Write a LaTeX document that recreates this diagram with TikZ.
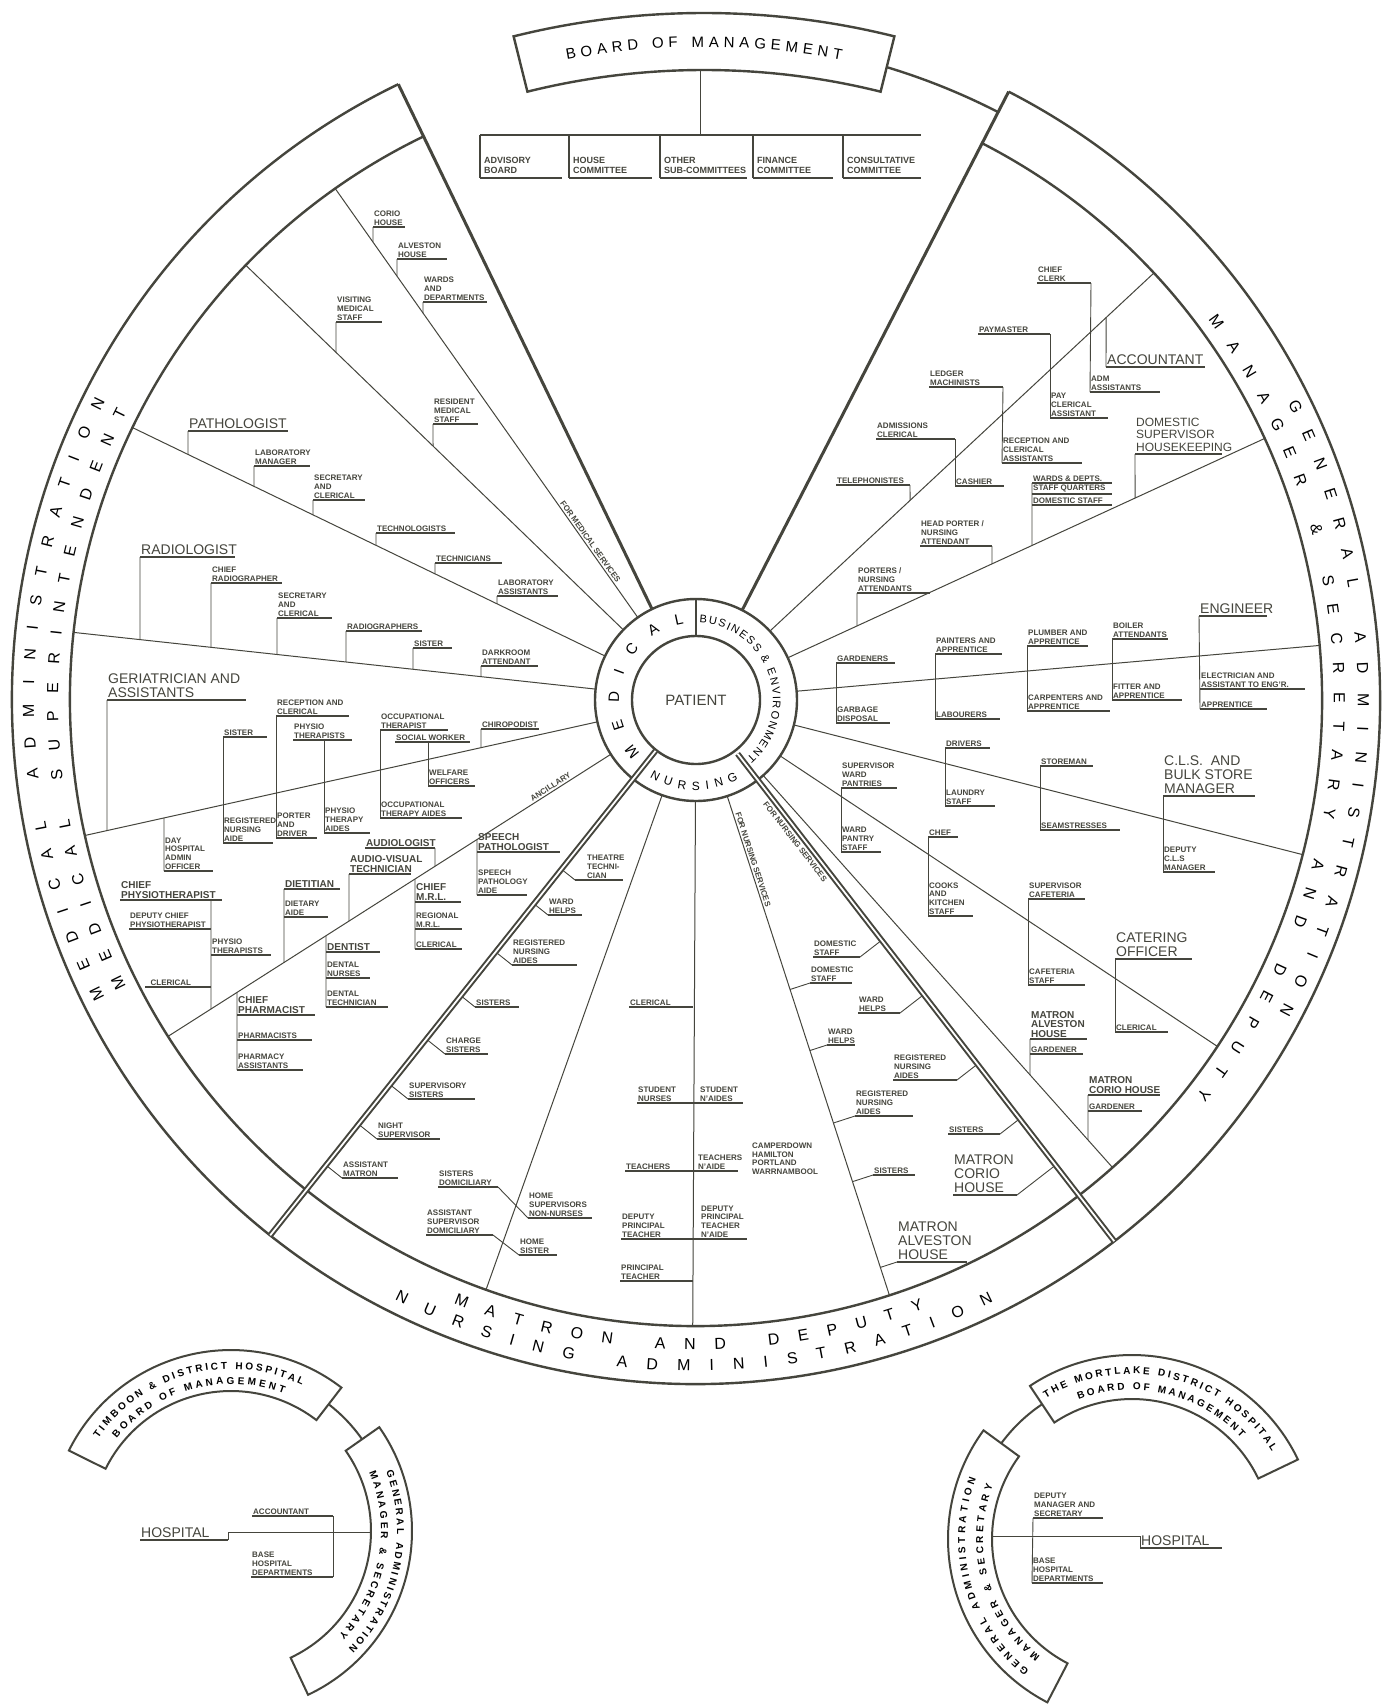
\documentclass[tikz,border=0pt]{standalone}
\usepackage{fontspec}
\setmainfont{Liberation Sans}
\usepackage{xcolor}
\usepackage{tikz}
\usetikzlibrary{calc,decorations.text}
\definecolor{ink}{HTML}{45453D}
\newcommand{\bandfont}{\fontsize{16}{16}\selectfont}
\newcommand{\smallbandfont}{\fontsize{10}{10}\selectfont\bfseries}

\begin{document}
\begin{tikzpicture}[
    x=1pt, y=-1pt, color=ink,
    band/.style={line width=2.4pt},
    thickline/.style={line width=3pt},
    sector/.style={line width=1pt},
    dbl/.style={double=white, double distance=1.8pt, line width=2pt},
    conn/.style={line width=0.9pt},
    uline/.style={line width=1.1pt},
    ulinebig/.style={line width=1.8pt},
    lab/.style={anchor=south west, inner xsep=1pt, inner ysep=1.6pt, align=left,
        font=\fontsize{8}{8.7}\selectfont\bfseries},
    midlab/.style={lab, font=\fontsize{10}{9.5}\selectfont\bfseries},
    biglab/.style={lab, inner ysep=2.2pt, font=\fontsize{14}{14}\selectfont},
    cell/.style={lab, inner xsep=4pt, inner ysep=4.5pt, font=\fontsize{9}{9.5}\selectfont\bfseries},
    linelab/.style={inner sep=1pt, font=\fontsize{8}{8}\selectfont\bfseries},
    bandtext/.style 2 args={decorate, decoration={text along path, text={|#1|#2}, text align={fit to path}}},
]

\fill[white] (0,0) rectangle (1381,1707);
\useasboundingbox (0,0) rectangle (1381,1707);

\begin{scope}[shift={(704,800)}]
    \draw[band] (-104:730) arc[start angle=-104, end angle=-76, radius=730]
        -- (-76:787) arc[start angle=-76, end angle=-104, radius=787] -- cycle;
    \path[bandtext={\fontsize{15}{15}\selectfont}{BOARD OF MANAGEMENT}]
        (-100.5:753) arc[start angle=-100.5, end angle=-79.5, radius=753];
    \coordinate (bomB) at (-90.3:730);
\end{scope}

\begin{scope}[shift={(696,700)}]
    \draw[band] (0,0) circle[radius=64] (0,0) circle[radius=101];
    \draw[band] (-90:64) -- (-90:101);
    \draw[band] (-62.8:626) arc[start angle=-62.8, end angle=244.2, radius=626];
    \draw[band] (-62.8:684) arc[start angle=-62.8, end angle=244.2, radius=684];
    \draw[band] (-73.2:661) arc[start angle=-73.2, end angle=-62.8, radius=661];
    \draw[thickline] (-115.8:101) -- (-115.8:684);
    \draw[thickline] (-62.8:101) -- (-62.8:684);
    \foreach \a/\nm in {234.8/l1, 224/l2, 205.8/l3, 186.2/l4, 167.5/l5, 147.5/l6,
            -43/b1, -24.7/b2, -5/b3, 14.3/b4, 33.6/b5, 48.3/b6, 72/n1, 90.3/n2, 109.6/n3}
        \draw[sector] (\a:101) coordinate (\nm-a) -- (\a:626) coordinate (\nm-b);
    \coordinate (dl-a) at (128.5:65);
    \coordinate (dl-b) at (128.5:684);
    \coordinate (dr-a) at (52.3:68);
    \coordinate (dr-b) at (52.3:684);

    \node[font=\fontsize{15}{15}\selectfont] (patient) at (0,0) {PATIENT};
    \path[bandtext={\fontsize{15}{15}\selectfont}{MEDICAL}]
        (136.5:77) arc[start angle=136.5, end angle=261, radius=77];
    \path[bandtext={\fontsize{11}{11}\selectfont}{BUSINESS {\&} ENVIRONMENT}]
        (-87.5:77) arc[start angle=-87.5, end angle=49, radius=77];
    \path[bandtext={\fontsize{12}{12}\selectfont}{NURSING}]
        (121:90) arc[start angle=121, end angle=62, radius=90];

    \path[bandtext={\bandfont}{MEDICAL ADMINISTRATION}]
        (153.3:662) arc[start angle=153.3, end angle=206.8, radius=662];
    \path[bandtext={\bandfont}{MEDICAL SUPERINTENDENT}]
        (153.3:638) arc[start angle=153.3, end angle=206.8, radius=638];
    \path[bandtext={\bandfont}{GENERAL ADMINISTRATION}]
        (-26.6:662) arc[start angle=-26.6, end angle=28.2, radius=662];
    \path[bandtext={\bandfont}{MANAGER {\&} SECRETARY AND DEPUTY}]
        (-36.6:638) arc[start angle=-36.6, end angle=38.3, radius=638];
    \path[bandtext={\bandfont}{MATRON AND DEPUTY}]
        (111.9:650) arc[start angle=111.9, end angle=69.5, radius=650];
    \path[bandtext={\bandfont}{NURSING ADMINISTRATION}]
        (116.7:671) arc[start angle=116.7, end angle=63.7, radius=671];

    \path (234.8:626) -- (234.8:101) node[linelab, pos=0.83, sloped, above=1pt] (formedical) {FOR MEDICAL SERVICES};
    \path (147.5:626) -- (147.5:101) node[linelab, pos=0.87, sloped, above=1pt] (ancillary) {ANCILLARY};
    \path (72:101) -- (72:626) node[linelab, pos=0.13, sloped, above=1pt] (fornursA) {FOR NURSING SERVICES};
    \path (52.3:68) -- (52.3:684) node[linelab, pos=0.17, sloped, below=4pt] (fornursB) {FOR NURSING SERVICES};
\end{scope}

\coordinate (rowL) at (480,135);
\coordinate (rowR) at (921,135);
\node[cell] (advisory) at (480,178) {ADVISORY\\BOARD};
\node[cell] (housec) at (569,178) {HOUSE\\COMMITTEE};
\node[cell] (othersub) at (660,178) {OTHER\\SUB-COMMITTEES};
\node[cell] (finance) at (753,178) {FINANCE\\COMMITTEE};
\node[cell] (consult) at (843,178) {CONSULTATIVE\\COMMITTEE};

\node[lab] (corio) at (373,227) {CORIO\\HOUSE};
\node[lab] (alveston) at (397,259) {ALVESTON\\HOUSE};
\node[lab] (wards) at (423,302) {WARDS\\AND\\DEPARTMENTS};
\node[lab] (visiting) at (336,322) {VISITING\\MEDICAL\\STAFF};
\node[lab] (resident) at (433,424) {RESIDENT\\MEDICAL\\STAFF};
\node[biglab] (patho) at (188,431) {PATHOLOGIST};
\node[lab] (labman) at (254,466) {LABORATORY\\MANAGER};
\node[lab] (secpath) at (313,500) {SECRETARY\\AND\\CLERICAL};
\node[lab] (technol) at (376,533) {TECHNOLOGISTS};
\node[lab] (technic) at (435,563) {TECHNICIANS};
\node[lab] (labass) at (497,596) {LABORATORY\\ASSISTANTS};
\node[biglab] (radio) at (140,557) {RADIOLOGIST};
\node[lab] (chiefrad) at (211,583) {CHIEF\\RADIOGRAPHER};
\node[lab] (secrad) at (277,618) {SECRETARY\\AND\\CLERICAL};
\node[lab] (radiog) at (346,631) {RADIOGRAPHERS};
\node[lab] (sisrad) at (413,648) {SISTER};
\node[lab] (darkroom) at (481,666) {DARKROOM\\ATTENDANT};
\node[biglab] (geri) at (107,700) {GERIATRICIAN AND\\ASSISTANTS};
\node[lab] (sisgeri) at (223,737) {SISTER};
\node[lab] (rna) at (223,843) {REGISTERED\\NURSING\\AIDE};
\node[lab] (recep) at (276,716) {RECEPTION AND\\CLERICAL};
\node[lab] (porter) at (276,838) {PORTER\\AND\\DRIVER};
\node[lab] (physth) at (293,740) {PHYSIO\\THERAPISTS};
\node[lab] (physaid) at (324,833) {PHYSIO\\THERAPY\\AIDES};
\node[lab] (occth) at (380,730) {OCCUPATIONAL\\THERAPIST};
\node[lab] (occaid) at (380,818) {OCCUPATIONAL\\THERAPY AIDES};
\node[lab] (social) at (395,742) {SOCIAL WORKER};
\node[lab] (welfare) at (428,786) {WELFARE\\OFFICERS};
\node[lab] (chiro) at (481,729) {CHIROPODIST};
\node[lab] (dayhosp) at (164,871) {DAY\\HOSPITAL\\ADMIN\\OFFICER};
\node[midlab] (chiefphys) at (120,900) {CHIEF\\PHYSIOTHERAPIST};
\node[lab] (depchief) at (129,929) {DEPUTY CHIEF\\PHYSIOTHERAPIST};
\node[lab] (clerphys) at (145,987) {\ \ CLERICAL};
\node[lab] (physth2) at (211,955) {PHYSIO\\THERAPISTS};
\node[midlab] (dietitian) at (284,889) {DIETITIAN};
\node[lab] (dietaide) at (284,917) {DIETARY\\AIDE};
\node[midlab] (audio) at (365,848) {AUDIOLOGIST};
\node[midlab] (avtech) at (349,874) {AUDIO-VISUAL\\TECHNICIAN};
\node[midlab] (chiefmrl) at (415,902) {CHIEF\\M.R.L.};
\node[lab] (regmrl) at (415,929) {REGIONAL\\M.R.L.};
\node[lab] (clermrl) at (415,949) {CLERICAL};
\node[midlab] (dentist) at (326,952) {DENTIST};
\node[lab] (dentnur) at (326,978) {DENTAL\\NURSES};
\node[lab] (denttech) at (326,1007) {DENTAL\\TECHNICIAN};
\node[midlab] (chiefpharm) at (237,1015) {CHIEF\\PHARMACIST};
\node[lab] (pharm) at (237,1040) {PHARMACISTS};
\node[lab] (pharmass) at (237,1070) {PHARMACY\\ASSISTANTS};
\node[midlab] (speech) at (477,852) {SPEECH\\PATHOLOGIST};
\node[lab] (speechaide) at (477,895) {SPEECH\\PATHOLOGY\\AIDE};

\node[lab, inner xsep=12pt] (theatre) at (575,880) {THEATRE\\TECHNI-\\CIAN};
\node[lab] (wardh1) at (548,915) {WARD\\HELPS};
\node[lab] (regna1) at (512,965) {REGISTERED\\NURSING\\AIDES};
\node[lab] (sisters1) at (475,1007) {SISTERS};
\node[lab] (charge) at (445,1054) {CHARGE\\SISTERS};
\node[lab] (supsis) at (408,1099) {SUPERVISORY\\SISTERS};
\node[lab] (night) at (377,1139) {NIGHT\\SUPERVISOR};
\node[lab] (asstmat) at (342,1178) {ASSISTANT\\MATRON};
\node[lab] (sisdom) at (438,1187) {SISTERS\\DOMICILIARY};
\node[lab] (homesup) at (528,1218) {HOME\\SUPERVISORS\\NON-NURSES};
\node[lab] (asssup) at (426,1235) {ASSISTANT\\SUPERVISOR\\DOMICILIARY};
\node[lab] (homesis) at (519,1255) {HOME\\SISTER};
\node[lab] (clernur) at (629,1007) {CLERICAL};
\node[lab] (studn) at (637,1103) {STUDENT\\NURSES};
\node[lab, inner xsep=7pt] (studa) at (693,1103) {STUDENT\\N'AIDES};
\node[lab] (teach) at (625,1171) {TEACHERS};
\node[lab, inner xsep=5pt] (teacha) at (693,1171) {TEACHERS\\N'AIDE};
\node[lab, anchor=north west] (places) at (751,1141) {CAMPERDOWN\\HAMILTON\\PORTLAND\\WARRNAMBOOL};
\node[lab] (deppt) at (621,1239) {DEPUTY\\PRINCIPAL\\TEACHER};
\node[lab, inner xsep=8pt] (deppta) at (693,1239) {DEPUTY\\PRINCIPAL\\TEACHER\\N'AIDE};
\node[lab] (princ) at (620,1281) {PRINCIPAL\\TEACHER};
\node[lab] (domst1) at (813,957) {DOMESTIC\\STAFF};
\node[lab] (domst2) at (810,983) {DOMESTIC\\STAFF};
\node[lab] (wardh2) at (858,1013) {WARD\\HELPS};
\node[lab] (wardh3) at (827,1045) {WARD\\HELPS};
\node[lab] (regna2) at (893,1080) {REGISTERED\\NURSING\\AIDES};
\node[lab] (regna3) at (855,1116) {REGISTERED\\NURSING\\AIDES};
\node[lab] (sisters2) at (948,1134) {SISTERS};
\node[lab] (sisters3) at (873,1175) {SISTERS};
\node[biglab] (matcorio) at (953,1195) {MATRON\\CORIO\\HOUSE};
\node[biglab] (matalv) at (897,1262) {MATRON\\ALVESTON\\HOUSE};

\node[lab] (chclerk) at (1037,283) {CHIEF\\CLERK};
\node[biglab] (accnt) at (1106,367) {ACCOUNTANT};
\node[lab] (admass) at (1090,392) {ADM\\ASSISTANTS};
\node[lab] (paym) at (978,334) {PAYMASTER};
\node[lab] (payclr) at (1050,418) {PAY\\CLERICAL\\ASSISTANT};
\node[lab] (ledger) at (929,387) {LEDGER\\MACHINISTS};
\node[lab] (recass) at (1002,463) {RECEPTION AND\\CLERICAL\\ASSISTANTS};
\node[lab] (admis) at (876,439) {ADMISSIONS\\CLERICAL};
\node[lab] (cashier) at (955,486) {CASHIER};
\node[lab] (teleph) at (836,485) {TELEPHONISTES};
\node[biglab, font=\fontsize{12}{12.5}\selectfont] (domsup) at (1135,454) {DOMESTIC\\SUPERVISOR\\HOUSEKEEPING};
\node[lab] (wd1) at (1032,483) {WARDS \& DEPTS.};
\node[lab] (wd2) at (1032,494) {STAFF QUARTERS};
\node[lab] (wd3) at (1032,505) {DOMESTIC STAFF};
\node[lab] (headp) at (920,546) {HEAD PORTER /\\NURSING\\ATTENDANT};
\node[lab] (porters) at (857,593) {PORTERS /\\NURSING\\ATTENDANTS};
\node[lab] (garden) at (836,663) {GARDENERS};
\node[lab] (garbage) at (836,723) {GARBAGE\\DISPOSAL};
\node[lab] (painters) at (935,654) {PAINTERS AND\\APPRENTICE};
\node[lab] (labour) at (935,719) {LABOURERS};
\node[lab] (plumber) at (1027,646) {PLUMBER AND\\APPRENTICE};
\node[lab] (carpent) at (1027,711) {CARPENTERS AND\\APPRENTICE};
\node[lab] (boiler) at (1112,639) {BOILER\\ATTENDANTS};
\node[lab] (fitter) at (1112,700) {FITTER AND\\APPRENTICE};
\node[biglab] (engineer) at (1199,616) {ENGINEER};
\node[lab] (elec) at (1200,689) {ELECTRICIAN AND\\ASSISTANT TO ENG'R.};
\node[lab] (apprent) at (1200,709) {APPRENTICE};
\node[lab] (drivers) at (945,748) {DRIVERS};
\node[lab] (laundry) at (945,806) {LAUNDRY\\STAFF};
\node[lab] (storeman) at (1040,766) {STOREMAN};
\node[lab] (seam) at (1040,830) {SEAMSTRESSES};
\node[biglab] (cls) at (1163,796) {C.L.S.\ \ AND\\BULK STORE\\MANAGER};
\node[lab] (deputy) at (1163,872) {DEPUTY\\C.L.S\\MANAGER};
\node[lab] (supwp) at (841,788) {SUPERVISOR\\WARD\\PANTRIES};
\node[lab] (wps) at (841,852) {WARD\\PANTRY\\STAFF};
\node[lab] (chef) at (928,837) {CHEF};
\node[lab] (cooks) at (928,916) {COOKS\\AND\\KITCHEN\\STAFF};
\node[lab] (supcaf) at (1028,899) {SUPERVISOR\\CAFETERIA};
\node[lab] (cafst) at (1028,985) {CAFETERIA\\STAFF};
\node[biglab] (cater) at (1115,959) {CATERING\\OFFICER};
\node[lab] (clercat) at (1115,1032) {CLERICAL};
\node[midlab] (matalvS) at (1030,1039) {MATRON\\ALVESTON\\HOUSE};
\node[lab] (gardA) at (1030,1054) {GARDENER};
\node[midlab] (matcorS) at (1088,1095) {MATRON\\CORIO HOUSE};
\node[lab] (gardC) at (1088,1111) {GARDENER};

\begin{scope}[shift={(231,1531)}]
    \draw[band, line width=2pt] (-153.6:140) arc[start angle=-153.6, end angle=-52.4, radius=140]
        -- (-52.4:181) arc[start angle=-52.4, end angle=-153.6, radius=181] -- cycle;
    \draw[band, line width=2pt] (-35:140) arc[start angle=-35, end angle=64.8, radius=140]
        -- (64.8:181) arc[start angle=64.8, end angle=-35, radius=181] -- cycle;
    \draw[band, line width=2pt] (-52.4:160) arc[start angle=-52.4, end angle=-35, radius=160];
    \path[bandtext={\smallbandfont}{TIMBOON {\&} DISTRICT HOSPITAL}]
        (-145:162) arc[start angle=-145, end angle=-64, radius=162];
    \path[bandtext={\smallbandfont}{BOARD OF MANAGEMENT}]
        (-141:147) arc[start angle=-141, end angle=-69, radius=147];
    \path[bandtext={\smallbandfont}{GENERAL ADMINISTRATION}]
        (-21:166) arc[start angle=-21, end angle=45, radius=166];
    \path[bandtext={\smallbandfont}{MANAGER {\&} SECRETARY}]
        (-23:150) arc[start angle=-23, end angle=44, radius=150];
    \coordinate (tbIn) at (0.4:140);
\end{scope}
\node[biglab] (hospT) at (140,1540) {HOSPITAL};
\node[lab] (accT) at (252,1516) {ACCOUNTANT};
\node[lab] (baseT) at (251,1577) {BASE\\HOSPITAL\\DEPARTMENTS};

\begin{scope}[shift={(1132,1539)}]
    \draw[band, line width=2pt] (-123.7:140) arc[start angle=-123.7, end angle=-25.6, radius=140]
        -- (-25.6:184) arc[start angle=-25.6, end angle=-123.7, radius=184] -- cycle;
    \draw[band, line width=2pt] (117.4:140) arc[start angle=117.4, end angle=216.2, radius=140]
        -- (216.2:184) arc[start angle=216.2, end angle=117.4, radius=184] -- cycle;
    \draw[band, line width=2pt] (216.2:162) arc[start angle=216.2, end angle=236.3, radius=162];
    \path[bandtext={\smallbandfont}{THE MORTLAKE DISTRICT HOSPITAL}]
        (-121.5:165) arc[start angle=-121.5, end angle=-32, radius=165];
    \path[bandtext={\smallbandfont}{BOARD OF MANAGEMENT}]
        (-111:149) arc[start angle=-111, end angle=-43, radius=149];
    \path[bandtext={\smallbandfont}{GENERAL ADMINISTRATION}]
        (128:167) arc[start angle=128, end angle=201, radius=167];
    \path[bandtext={\smallbandfont}{MANAGER {\&} SECRETARY}]
        (128:149) arc[start angle=128, end angle=201, radius=149];
    \coordinate (mbIn) at (181:140);
\end{scope}
\node[lab] (depmgr) at (1033,1518) {DEPUTY\\MANAGER AND\\SECRETARY};
\node[lab] (baseM) at (1032,1583) {BASE\\HOSPITAL\\DEPARTMENTS};
\node[biglab] (hospM) at (1140,1548) {HOSPITAL};

\foreach \nd/\w in {advisory/82, housec/83, othersub/87, finance/80, consult/78,
        corio/32, alveston/50, wards/64, visiting/46, resident/45, labman/56, secpath/52,
        technol/79, technic/67, labass/61, chiefrad/71, secrad/55, radiog/76, sisrad/39,
        darkroom/57, sisgeri/44, rna/50, recep/73, porter/41, physth/59, physaid/46,
        occth/68, occaid/82, social/75, welfare/47, chiro/58, dayhosp/49, depchief/82,
        clerphys/66, physth2/60, dietaide/44, regmrl/47, clermrl/47, dentnur/44,
        denttech/62, pharm/75, pharmass/66, speechaide/50, theatre/48, wardh1/34,
        regna1/65, sisters1/44, charge/43, supsis/67, night/63, asstmat/56, sisdom/60,
        homesup/64, asssup/67, homesis/38, clernur/64, studn/56, studa/50, teach/68,
        teacha/45, deppt/72, deppta/54, princ/73, domst1/47, domst2/42, wardh2/42,
        wardh3/28, regna2/64, regna3/58, sisters2/52, sisters3/42, chclerk/54,
        admass/70, paym/72, payclr/58, ledger/74, recass/80, admis/79, cashier/49,
        teleph/74, wd1/80, wd2/80, wd3/80, headp/72, porters/73, garden/59,
        garbage/54, painters/67, labour/65, plumber/61, carpent/83, boiler/56,
        fitter/70, elec/105, apprent/67, drivers/45, laundry/50, storeman/53, seam/80,
        deputy/52, supwp/56, wps/40, chef/30, cooks/45, supcaf/57, cafst/57,
        clercat/53, gardA/53, gardC/54, accT/81, baseT/82, depmgr/70, baseM/71,
        chiefphys/102, dietitian/56, audio/70, avtech/62, chiefmrl/46, dentist/54,
        chiefpharm/78, speech/83, matalvS/57, matcorS/72}
    \draw[uline] (\nd.south west) -- ++(\w,0) coordinate (\nd-e) ++(0,-10) coordinate (\nd-u);
\foreach \nd/\w in {patho/100, radio/95, geri/139, accnt/99, domsup/87, engineer/68,
        cls/92, cater/77, matcorio/64, matalv/70, hospT/88, hospM/82}
    \draw[ulinebig] (\nd.south west) -- ++(\w,0) coordinate (\nd-e) ++(0,-10) coordinate (\nd-u);

\draw[uline] (rowL) -- (rowR);
\draw[conn, line width=1.1pt] (bomB) -- (bomB |- rowL);
\foreach \nd in {advisory, housec, othersub, finance, consult}
    \draw[conn, line width=1.1pt] (\nd.south west) -- (\nd.south west |- rowL);

\foreach \nd/\seg in {corio/l1, alveston/l1, wards/l1, visiting/l2, resident/l2,
        patho/l3, labman/l3, secpath/l3, technol/l3, technic/l3, labass/l3,
        radio/l4, chiefrad/l4, secrad/l4, radiog/l4, sisrad/l4, darkroom/l4,
        geri/l5, chiro/l5, dayhosp/l5, dietitian/l6, avtech/l6, clermrl/l6,
        denttech/l6, pharmass/l6, speechaide/l6, accnt/b1, domsup/b2, wd1/b2,
        porters/b2, matalvS/b6, matcorS/b6}
    \draw[conn] (\nd.south west) -- (intersection of \seg-a--\seg-b and \nd.south west--\nd.north west);
\foreach \nd/\seg in {teleph/b1, headp/b2, audio/l6}
    \draw[conn] (\nd-e) -- (intersection of \seg-a--\seg-b and \nd-e--\nd-u);
\draw[conn] (physth2.south west |- chiefphys.south west)
    -- (intersection of l6-a--l6-b and physth2.south west--physth2.north west);

\foreach \u/\v in {sisgeri/rna, recep/porter, occth/occaid, garden/garbage,
        painters/labour, plumber/carpent, boiler/fitter, engineer/apprent,
        drivers/laundry, storeman/seam, cls/deputy, supwp/wps, chef/cooks,
        supcaf/cafst, cater/clercat, depmgr/baseM}
    \draw[conn] (\u.south west) -- (\v.south west);
\foreach \u/\v in {chclerk/admass, paym/payclr, ledger/recass, admis/cashier,
        sisdom/homesup, asssup/homesis}
    \draw[conn] (\u-e) -- (\v.south west);
\draw[conn] (accT-e) -- (baseT-e);
\draw[conn] (physaid.south west |- physth.south west) -- (physaid.south west);
\draw[conn] (welfare.south west |- social.south west) -- (welfare.south west);

\foreach \nd in {theatre, wardh1, regna1, sisters1, charge, supsis, night, asstmat}
    \draw[conn] (\nd.south west) -- ($(dl-a)!(\nd.south west)!(dl-b)$);
\foreach \nd in {domst1, wardh2, regna2, sisters2, matcorio}
    \draw[conn] (\nd-e) -- ($(dr-a)!(\nd-e)!(dr-b)$);
\foreach \nd in {domst2, wardh3, regna3, sisters3, matalv}
    \draw[conn] (\nd.south west) -- ($(n1-a)!(\nd.south west)!(n1-b)$);

\draw[conn] (hospT-e) -- (hospT-e |- tbIn) -- (tbIn);
\draw[conn] (mbIn) -- (hospM.south west |- mbIn) -- (hospM.south west);

\draw[dbl] (dl-a) -- (dl-b);
\draw[dbl] (dr-a) -- (dr-b);

\end{tikzpicture}
\end{document}
